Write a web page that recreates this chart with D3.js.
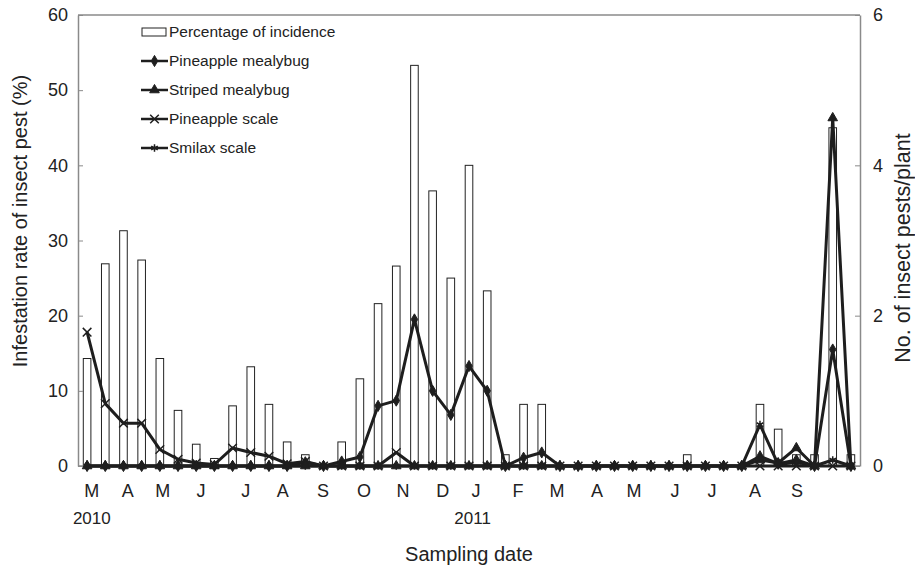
<!DOCTYPE html>
<html>
<head>
<meta charset="utf-8">
<script src="https://cdn.jsdelivr.net/npm/d3@7"></script>
<style>
  body { margin: 0; background: #fff; }
  svg text { font-family: "Liberation Sans", Arial, sans-serif; fill: #222; }
</style>
</head>
<body>
<div id="chart"></div>
<script>
// sampling points (about two per month, Mar 2010 - Oct 2011)
var incidence = [14.3, 26.9, 31.3, 27.4, 14.3, 7.4, 2.9, 1.0, 8.0, 13.2,
                 8.2, 3.2, 1.5, 0, 3.2, 11.6, 21.6, 26.6, 53.3, 36.6,
                 25.0, 40.0, 23.3, 1.5, 8.2, 8.2, 0, 0, 0, 0,
                 0, 0, 0, 1.5, 0, 0, 0, 8.2, 4.9, 1.5,
                 1.5, 45.0, 1.5];
var pineappleMealybug = [0, 0, 0, 0, 0, 0, 0, 0, 0, 0,
                         0, 0, 0.05, 0, 0.06, 0.12, 0.80, 0.87, 1.95, 1.0,
                         0.68, 1.33, 1.0, 0, 0.11, 0.18, 0, 0, 0, 0,
                         0, 0, 0, 0, 0, 0, 0, 0.13, 0.03, 0.08,
                         0, 1.55, 0];
var stripedMealybug = [0, 0, 0, 0, 0, 0, 0, 0, 0, 0,
                       0, 0, 0, 0, 0, 0, 0, 0, 0, 0,
                       0, 0, 0, 0, 0, 0, 0, 0, 0, 0,
                       0, 0, 0, 0, 0, 0, 0, 0.08, 0.04, 0.24,
                       0, 4.63, 0];
var pineappleScale = [1.78, 0.83, 0.57, 0.57, 0.22, 0.09, 0.04, 0.02, 0.24, 0.18,
                      0.13, 0.03, 0.06, 0, 0, 0, 0, 0.18, 0, 0,
                      0, 0, 0, 0, 0, 0, 0, 0, 0, 0,
                      0, 0, 0, 0, 0, 0, 0, 0, 0, 0,
                      0, 0, 0];
var smilaxScale = [0, 0, 0, 0, 0, 0, 0, 0, 0, 0,
                   0, 0, 0, 0, 0, 0, 0, 0, 0, 0,
                   0, 0, 0, 0, 0, 0, 0, 0, 0, 0,
                   0, 0, 0, 0, 0, 0, 0, 0.55, 0.02, 0.05,
                   0, 0.08, 0];

// month labels, placed in sample-index units
var monthLabels = ["M","A","M","J","J","A","S","O","N","D","J","F","M","A","M","J","J","A","S"];
var monthAt = [0.26, 2.24, 4.16, 6.26, 8.73, 10.76, 12.97, 15.22, 17.37, 19.56,
               21.38, 23.69, 25.84, 28.04, 30.07, 32.33, 34.36, 36.73, 39.04];
var yearLabels = ["2010", "2011"];
var yearAt = [0.26, 21.2];

var leftTicks = [0, 10, 20, 30, 40, 50, 60];
var rightTicks = [0, 2, 4, 6];

var W = 915, H = 568;
var M = {top: 15, right: 55, bottom: 102, left: 78};

var svg = d3.select("#chart").append("svg")
    .attr("width", W)
    .attr("height", H);

var n = incidence.length;
var x = d3.scaleBand().domain(d3.range(n)).range([M.left, W - M.right]);
var xIdx = d3.scaleLinear().domain([-0.5, n - 0.5]).range([M.left, W - M.right]);
var yL = d3.scaleLinear().domain([0, 60]).range([H - M.bottom, M.top]);
var yR = d3.scaleLinear().domain([0, 6]).range([H - M.bottom, M.top]);
var cx = function(i) { return x(i) + x.bandwidth() / 2; };

// top frame line
svg.append("line")
    .attr("x1", M.left).attr("x2", W - M.right)
    .attr("y1", M.top).attr("y2", M.top)
    .attr("stroke", "#8a8a8a").attr("stroke-width", 1.5);

// bars
var barW = 7.6;
svg.selectAll("rect.bar")
    .data(incidence)
    .enter().append("rect")
    .attr("class", "bar")
    .attr("x", function(d, i) { return cx(i) - barW / 2; })
    .attr("y", function(d) { return yL(d); })
    .attr("width", barW)
    .attr("height", function(d) { return yL(0) - yL(d); })
    .attr("fill", "#fff")
    .attr("stroke", "#222")
    .attr("stroke-width", 1);

// axes
var axL = svg.append("g")
    .attr("transform", "translate(" + M.left + ",0)")
    .call(d3.axisLeft(yL).tickValues(leftTicks).tickSizeInner(-5).tickSizeOuter(0).tickPadding(10));
var axR = svg.append("g")
    .attr("transform", "translate(" + (W - M.right) + ",0)")
    .call(d3.axisRight(yR).tickValues(rightTicks).tickFormat(d3.format("d"))
        .tickSizeInner(-5).tickSizeOuter(0).tickPadding(13));
[axL, axR].forEach(function(a) {
    a.select(".domain").attr("stroke", "#8a8a8a").attr("stroke-width", 1.5);
    a.selectAll(".tick line").attr("stroke", "#8a8a8a");
    a.selectAll(".tick text").style("font-size", "18px").attr("fill", "#222");
});

svg.append("line")
    .attr("x1", M.left).attr("x2", W - M.right)
    .attr("y1", yL(0)).attr("y2", yL(0))
    .attr("stroke", "#8a8a8a").attr("stroke-width", 1.5);

// series
var lineCol = "#1e1e1e";
var series = [
    {name: "Pineapple mealybug", values: pineappleMealybug, sym: d3.symbolDiamond, size: 36, fill: true},
    {name: "Smilax scale", values: smilaxScale, sym: d3.symbolAsterisk, size: 40, fill: false},
    {name: "Pineapple scale", values: pineappleScale, sym: d3.symbolX, size: 50, fill: false},
    {name: "Striped mealybug", values: stripedMealybug, sym: d3.symbolTriangle, size: 40, fill: true}
];

var line = d3.line()
    .x(function(d, i) { return cx(i); })
    .y(function(d) { return yR(d); });

series.forEach(function(s) {
    svg.append("path")
        .attr("d", line(s.values))
        .attr("fill", "none")
        .attr("stroke", lineCol)
        .attr("stroke-width", 3)
        .attr("stroke-linejoin", "round");
    svg.selectAll(null)
        .data(s.values)
        .enter().append("path")
        .attr("transform", function(d, i) { return "translate(" + cx(i) + "," + yR(d) + ")"; })
        .attr("d", d3.symbol().type(s.sym).size(s.size))
        .attr("fill", s.fill ? lineCol : "none")
        .attr("stroke", lineCol)
        .attr("stroke-width", s.fill ? 1 : 1.5);
});

// month and year labels
svg.selectAll("text.month")
    .data(monthLabels)
    .enter().append("text")
    .attr("class", "month")
    .attr("x", function(d, i) { return xIdx(monthAt[i]); })
    .attr("y", 497)
    .attr("text-anchor", "middle")
    .style("font-size", "18px")
    .text(function(d) { return d; });

svg.selectAll("text.year")
    .data(yearLabels)
    .enter().append("text")
    .attr("class", "year")
    .attr("x", function(d, i) { return xIdx(yearAt[i]); })
    .attr("y", 524)
    .attr("text-anchor", "middle")
    .style("font-size", "17px")
    .text(function(d) { return d; });

// axis titles
svg.append("text")
    .attr("x", 469).attr("y", 561)
    .attr("text-anchor", "middle")
    .style("font-size", "20px")
    .text("Sampling date");

svg.append("text")
    .attr("transform", "translate(27," + 221 + ") rotate(-90)")
    .attr("text-anchor", "middle")
    .style("font-size", "20px")
    .text("Infestation rate of insect pest (%)");

svg.append("text")
    .attr("transform", "translate(910," + 248 + ") rotate(-90)")
    .attr("text-anchor", "middle")
    .style("font-size", "21.5px")
    .text("No. of insect pests/plant");

// legend
var legX = 141, legY = 32, legStep = 29;
var legItems = ["Percentage of incidence", "Pineapple mealybug", "Striped mealybug", "Pineapple scale", "Smilax scale"];
var legSym = [null, series[0], series[3], series[2], series[1]];

legItems.forEach(function(name, i) {
    var yy = legY + i * legStep;
    if (i == 0) {
        svg.append("rect")
            .attr("x", legX + 1).attr("y", yy - 4)
            .attr("width", 24).attr("height", 8)
            .attr("fill", "#fff").attr("stroke", "#222");
    } else {
        var s = legSym[i];
        svg.append("line")
            .attr("x1", legX).attr("x2", legX + 27)
            .attr("y1", yy).attr("y2", yy)
            .attr("stroke", lineCol).attr("stroke-width", 2.5);
        svg.append("path")
            .attr("transform", "translate(" + (legX + 13.5) + "," + yy + ")")
            .attr("d", d3.symbol().type(s.sym).size(s.size))
            .attr("fill", s.fill ? lineCol : "none")
            .attr("stroke", lineCol)
            .attr("stroke-width", s.fill ? 1 : 1.5);
    }
    svg.append("text")
        .attr("x", legX + 28).attr("y", yy)
        .attr("dy", "0.35em")
        .style("font-size", "15.5px")
        .text(name);
});
</script>
</body>
</html>
